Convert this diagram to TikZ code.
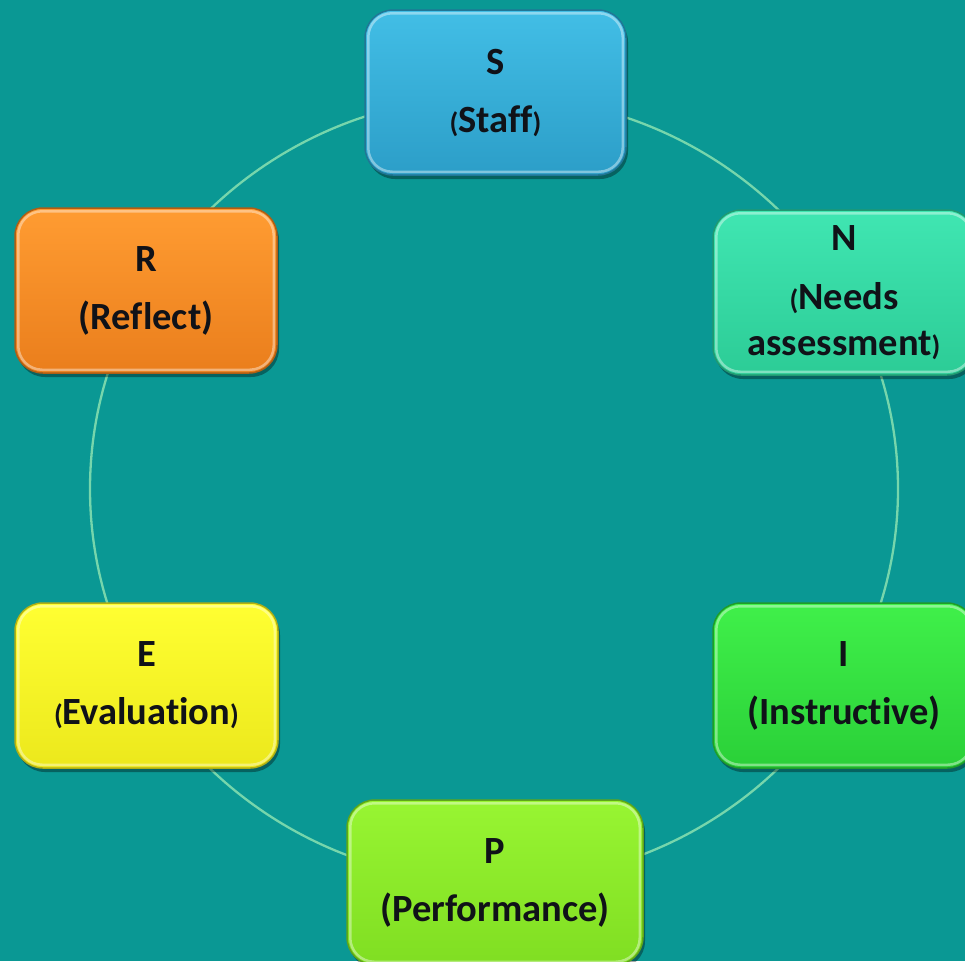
\documentclass[tikz,border=0pt]{standalone}
\usepackage{fontspec}
\setmainfont[Ligatures=NoCommon]{Carlito}
\usetikzlibrary{shadows}
\definecolor{bg}{RGB}{10,152,148}
\definecolor{ring}{RGB}{118,214,172}
\definecolor{txt}{RGB}{16,18,24}
\definecolor{sTop}{RGB}{66,190,230}
\definecolor{sBot}{RGB}{44,158,200}
\definecolor{nTop}{RGB}{64,230,178}
\definecolor{nBot}{RGB}{44,204,150}
\definecolor{rTop}{RGB}{255,156,50}
\definecolor{rBot}{RGB}{234,126,28}
\definecolor{iTop}{RGB}{64,240,74}
\definecolor{iBot}{RGB}{42,208,56}
\definecolor{eTop}{RGB}{255,255,50}
\definecolor{eBot}{RGB}{236,232,28}
\definecolor{pTop}{RGB}{152,245,50}
\definecolor{pBot}{RGB}{128,222,34}
\newcommand\bxfont{\fontsize{38.5}{58}\selectfont\bfseries}
\newcommand\smp[1]{{\fontsize{28}{28}\selectfont #1}}
\tikzset{
  box/.style 2 args={rounded corners=28, minimum width=262, minimum height=165,
    inner sep=0, align=center, font=\bxfont, text=txt,
    top color=#1, bottom color=#2, draw=#2!75!black, line width=1.5,
    drop shadow={shadow xshift=2pt, shadow yshift=-4pt, opacity=.35, fill=black}},
  rim/.style={draw=white, opacity=.4, line width=2.5, rounded corners=24},
  ringline/.style={draw=ring, line width=2.3}
}
\begin{document}
\begin{tikzpicture}[x=1pt,y=-1pt]
\useasboundingbox (0,0) rectangle (965,961);
\clip (0,0) rectangle (965,961);
\fill[bg] (0,0) rectangle (965,961);
\draw[ringline] (494,489) ellipse [x radius=404, y radius=393];
\node[box={sTop}{sBot}, minimum width=261] (S) at (495.5,92.5) {S\\\smp{(}Staff\smp{)}};
\node[box={nTop}{nBot}] (N) at (844,292.5) {N\\[1pt]\smp{(}Needs\\[-12pt]assessment\smp{)}};
\node[box={iTop}{iBot}] (I) at (844,685.5) {I\\(Instructive)};
\node[box={pTop}{pBot}, minimum width=296] (P) at (495,882.5) {P\\(Performance)};
\node[box={eTop}{eBot}, minimum width=263] (E) at (146.5,685.5) {E\\\smp{(}Evaluation\smp{)}};
\node[box={rTop}{rBot}] (R) at (146,290.5) {R\\(Reflect)};
\foreach \n in {S,N,I,P,E,R}
  \draw[rim] ([shift={(4,4)}]\n.north west) rectangle ([shift={(-4,-4)}]\n.south east);
\end{tikzpicture}
\end{document}
